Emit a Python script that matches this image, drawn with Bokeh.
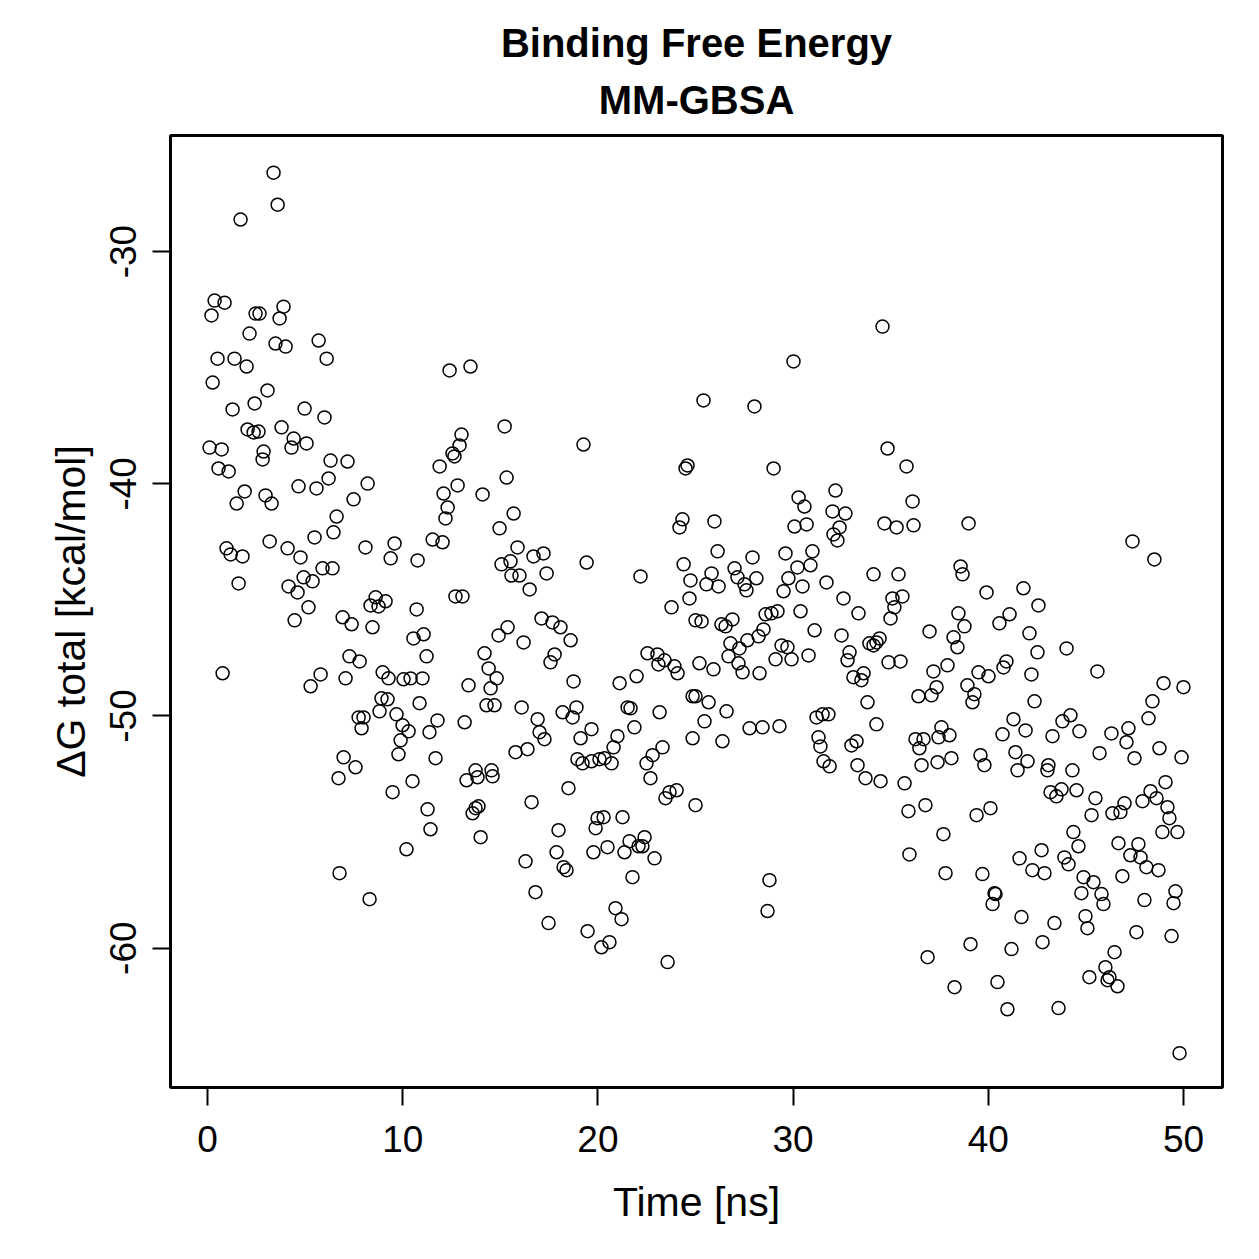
from bokeh.plotting import figure
from bokeh.models import Range1d, FixedTicker, Title
from bokeh.embed import file_html
from bokeh.resources import INLINE

FONT = "Liberation Sans"

# Simulation time of each snapshot [ns]
time_ns = [
    3.38, 3.59, 1.69, 0.36, 0.87, 0.20, 2.46, 2.66, 3.89, 3.69, 2.15, 3.48, 4.00, 5.69, 6.10, 0.51, 1.38,
    2.00, 0.26, 3.07, 1.28, 2.41, 4.97, 5.99, 2.05, 2.36, 2.61, 3.79, 4.41, 4.30, 5.07, 0.10, 0.72, 2.87,
    12.40, 13.47, 15.22, 19.26, 13.01, 12.91, 12.55, 12.65, 34.58, 30.02, 25.41, 28.02, 34.84,
    2.82, 0.56, 1.08, 6.30, 7.17, 11.89, 1.90, 1.49, 2.97, 3.28, 4.66, 5.58, 6.20, 8.20, 7.48, 6.61, 6.45,
    5.48, 3.18, 0.97, 1.18, 1.79, 4.10, 4.76, 5.89, 6.40, 8.09, 9.58, 9.38, 10.76, 11.53, 12.04, 1.59, 4.15,
    4.61, 4.92, 5.38, 5.17, 4.46, 6.92, 7.38, 8.45, 8.61, 8.35, 8.76, 9.12, 10.71, 10.55, 11.07, 11.22, 7.27,
    7.79, 0.77, 5.79, 5.28, 7.07, 8.97, 9.27, 10.04, 10.40, 11.01, 8.91, 9.22, 10.86, 7.74, 7.99, 7.89, 8.81,
    9.68, 9.99, 10.30, 9.89, 9.78, 11.37, 11.78, 6.97, 7.58, 11.68,
    15.32, 12.81, 12.09, 14.09, 12.30, 12.19, 15.68, 14.96, 15.88, 16.70, 17.21, 15.06, 15.52, 15.57, 15.98,
    17.37, 16.50, 19.42, 22.18, 24.59, 24.49, 24.33, 24.18, 24.39, 24.74, 24.69, 23.77, 25.00, 12.70, 13.06,
    17.11, 17.67, 18.08, 15.37, 14.91, 16.19, 18.60, 14.19, 17.78, 17.57, 14.40, 14.81, 14.50, 13.37, 18.75,
    22.54, 23.05, 23.41, 23.10, 23.92, 24.08, 21.98, 21.11, 14.29, 14.70, 16.09, 18.19, 18.70, 18.90, 21.52,
    21.67, 23.16, 24.85, 13.17, 16.91, 17.01, 17.26, 19.67, 19.11, 21.87, 21.00, 20.80, 24.85, 23.31, 22.80,
    22.49, 15.78, 16.39, 18.95, 19.21, 19.67, 20.08, 20.34, 20.70, 14.55, 13.73,
    13.27, 13.83, 14.60, 13.88, 13.73, 13.58, 13.99, 16.60, 18.49, 22.69, 23.46, 23.67, 24.03, 25.00, 21.26,
    19.98, 20.29, 19.88, 17.98, 17.88, 16.29, 18.24, 18.39, 19.77, 20.49, 21.36, 21.62, 22.39, 22.08, 22.28,
    22.90, 21.77, 16.80, 20.90, 21.21, 17.47, 19.47, 20.59, 20.18, 23.57,
    6.71, 9.48, 10.50, 11.27, 11.42, 10.19, 6.76, 8.30,
    29.00, 35.81, 32.17, 30.28, 30.58, 36.12, 32.02, 32.68, 25.97, 30.07, 30.69, 32.38, 32.07, 32.27, 34.68,
    35.30, 36.17, 26.13, 27.92, 29.61, 30.99, 30.89, 30.22, 29.76, 29.51, 30.48, 31.71, 27.00, 27.15, 25.82,
    25.56, 26.18, 28.12, 27.51, 27.61, 34.12, 35.40, 32.58, 35.09, 35.60, 35.19, 34.99, 33.35, 25.31, 26.33,
    26.54, 26.89, 28.59, 28.89, 29.20, 30.38, 28.48, 28.23, 27.66, 27.25, 26.79, 26.69, 27.20, 27.41, 31.10,
    32.48, 33.91, 34.12, 34.27, 34.43, 29.41, 29.71, 29.10, 29.92, 30.79, 32.89, 32.79, 34.89, 35.50, 36.99,
    38.47, 38.22, 38.42, 25.20, 25.92, 28.28, 33.09, 33.61, 33.50, 37.19, 37.91, 37.35, 37.09, 36.42, 25.00,
    25.67, 26.59, 25.46, 27.77, 28.43, 29.30, 33.81, 31.20, 31.51, 31.81, 34.27, 26.38, 31.30, 31.40, 32.99,
    33.25, 36.27, 36.68, 36.47, 37.60, 37.45, 38.01, 31.56, 31.87, 33.30, 36.58, 37.40, 38.11,
    33.71, 34.48, 35.71, 35.91, 36.78, 37.70, 35.96, 37.81, 28.79, 28.69, 36.89,
    38.99, 47.39, 48.51, 38.58, 38.68, 39.91, 41.80, 42.57, 38.78, 41.09, 40.57, 42.11, 42.52, 44.01, 40.93,
    40.78, 39.50, 40.01, 42.21, 45.59, 38.93, 39.29, 39.19, 42.37, 48.98, 50.00, 48.41, 48.21, 41.29, 41.91,
    40.73, 44.21, 43.80, 44.67, 43.29, 46.31, 47.18, 47.08, 39.60, 39.80, 41.39, 42.01, 41.50, 43.08, 43.03,
    44.31, 45.70, 47.49, 48.77, 49.90,
    43.19, 43.49, 43.75, 44.52, 45.49, 45.29, 46.36, 46.77, 46.98, 47.90, 48.31, 48.62, 49.08, 49.18, 49.28,
    48.92, 49.69, 39.40, 40.11, 44.36, 44.62, 46.67, 47.69, 47.28, 47.80, 48.10, 48.72, 42.73, 41.60, 43.90,
    44.11, 42.26, 42.88, 39.70, 44.88, 45.39, 46.87, 44.77, 45.80, 45.90, 48.00, 49.59, 49.49, 40.32, 40.37,
    40.22, 41.70, 43.39, 44.98, 45.08, 47.59, 49.39, 39.09, 41.19, 42.78, 46.47, 46.00, 46.21, 46.11, 46.62,
    45.18, 38.27, 40.47, 40.98, 43.60, 49.80,
]

# MM-GBSA total binding free energy of each snapshot [kcal/mol]
dg_total = [
    -26.60, -27.98, -28.62, -32.11, -32.20, -32.75, -32.67, -32.67, -32.37, -32.88, -33.53, -33.96, -34.09,
    -33.83, -34.61, -34.61, -34.61, -34.95, -35.64, -35.98, -36.80, -36.54, -36.76, -37.14, -37.66, -37.79,
    -37.75, -37.57, -38.05, -38.44, -38.26, -38.44, -38.52, -38.61,
    -35.12, -34.95, -37.53, -38.31, -37.88, -38.35, -38.69, -38.82, -33.23, -34.73, -36.41, -36.67, -38.48,
    -38.95, -39.34, -39.47, -39.00, -39.04, -39.25, -40.33, -40.85, -40.50, -40.85, -40.11, -40.20, -39.77,
    -39.99, -40.67, -41.41, -42.09, -42.31, -42.48, -42.78, -43.04, -43.13, -42.78, -43.17, -43.64, -43.64,
    -42.74, -42.57, -43.21, -43.30, -42.40, -42.52, -44.29, -44.42, -44.68, -44.03, -44.20, -45.32, -45.88,
    -45.75, -46.05, -46.18, -44.89, -45.24, -45.28, -45.06, -45.41, -46.66, -46.48, -47.43, -47.43, -47.65,
    -48.16, -48.21, -48.72, -48.38, -48.12, -48.38, -48.42, -48.38, -48.38, -49.24, -49.28, -49.45, -50.06,
    -50.06, -50.53, -49.80, -49.93, -50.40, -50.66, -51.05, -51.65, -50.70, -50.19, -51.78, -52.21, -51.82,
    -39.73, -40.07, -40.42, -40.46, -41.02, -41.49, -41.28, -41.92, -42.74, -43.13, -43.00, -43.47, -43.34,
    -43.95, -43.95, -43.86, -44.55, -43.39, -43.99, -39.21, -39.34, -41.53, -41.88, -43.47, -44.16, -44.94,
    -45.32, -45.88, -44.85, -44.85, -45.80, -45.97, -46.18, -46.18, -46.53, -46.83, -46.74, -47.30, -47.35,
    -47.69, -47.95, -48.38, -48.81, -48.68, -48.51, -47.30, -47.35, -47.60, -47.78, -47.86, -48.16, -48.29,
    -48.59, -49.54, -49.54, -49.63, -49.84, -50.06, -49.63, -49.63, -49.67, -49.84, -49.15, -50.27, -50.14,
    -50.70, -51.00, -50.57, -50.96, -50.49, -50.87, -51.35, -50.96, -51.35, -51.69, -52.04, -51.56, -51.43,
    -51.86, -52.04, -51.95, -51.86, -51.82, -52.04, -52.34, -52.34,
    -52.77, -52.64, -52.60, -53.89, -53.97, -54.19, -55.22, -53.71, -53.11, -52.68, -53.54, -53.28, -53.20,
    -53.84, -54.36, -54.40, -54.36, -54.83, -54.92, -55.87, -56.26, -56.51, -56.64, -55.87, -55.65, -55.87,
    -55.39, -55.22, -55.61, -55.61, -56.13, -56.94, -57.59, -58.28, -58.75, -58.92, -59.27, -59.74, -59.96,
    -60.60,
    -52.68, -53.28, -52.81, -54.02, -54.88, -55.74, -56.77, -57.89,
    -39.34, -39.25, -40.29, -40.59, -40.98, -40.76, -41.19, -41.28, -41.62, -41.84, -41.75, -41.88, -42.18,
    -42.44, -41.71, -41.88, -41.79, -42.91, -43.17, -43.00, -42.91, -43.51, -43.60, -44.07, -44.63, -44.42,
    -44.25, -43.64, -44.03, -43.86, -44.33, -44.42, -44.07, -44.33, -44.59, -43.90, -43.90, -44.94, -44.94,
    -44.85, -45.32, -45.80, -45.58, -45.93, -46.05, -46.14, -45.84, -45.62, -45.58, -45.49, -45.49, -46.27,
    -46.57, -46.74, -47.09, -46.87, -47.43, -47.73, -48.12, -46.31, -46.53, -46.87, -46.96, -46.83, -46.66,
    -46.96, -47.04, -47.56, -47.56, -47.39, -47.26, -47.60, -47.69, -47.65, -46.36, -45.58, -46.61, -47.04,
    -47.73, -47.99, -48.16, -48.33, -48.16, -48.46, -48.08, -47.82, -48.76, -49.11, -49.15, -49.15, -49.41,
    -49.80, -50.23, -50.53, -50.49, -50.44, -49.41, -50.06, -49.93, -49.93, -50.36, -51.09, -50.92, -51.31,
    -51.27, -51.09, -51.00, -51.00, -51.39, -50.49, -50.92, -50.83, -51.95, -52.17, -52.12, -52.12, -51.99,
    -51.82,
    -52.68, -52.81, -52.90, -54.10, -53.84, -55.09, -55.96, -56.77, -57.07, -58.40, -60.39,
    -41.71, -42.48, -43.26, -43.56, -43.90, -44.68, -44.50, -45.24, -46.14, -45.62, -46.01, -46.44, -47.26,
    -47.09, -47.65, -47.91, -48.12, -48.29, -48.21, -48.08, -48.68, -49.06, -49.41, -49.37, -48.59, -48.76,
    -49.37, -50.10, -50.14, -50.62, -50.79, -49.97, -50.23, -50.66, -50.87, -50.75, -50.53, -51.13, -51.69,
    -52.12, -51.56, -51.95, -52.34, -52.12, -52.34, -52.34, -51.60, -51.82, -51.39, -51.78,
    -53.28, -53.46, -53.16, -53.20, -53.54, -54.27, -54.19, -54.14, -53.76, -53.67, -53.24, -53.54, -52.85,
    -53.93, -54.40, -55.00, -55.00, -54.27, -53.97, -55.00, -55.61, -55.48, -55.52, -56.00, -56.09, -56.51,
    -56.64, -55.78, -56.13, -56.09, -56.39, -56.64, -56.77, -56.81, -56.94, -57.16, -56.90, -57.63, -57.67,
    -58.10, -57.93, -57.55, -58.06, -57.63, -57.67, -58.10, -58.66, -58.92, -58.62, -59.14, -59.31, -59.48,
    -59.83, -60.04, -59.74, -60.17, -60.82, -61.25, -61.38, -61.64, -61.25, -61.68, -61.46, -62.63, -62.58,
    -64.52,
]

assert len(time_ns) == len(dg_total)

x_ticks = [0, 10, 20, 30, 40, 50]
y_ticks = [-60, -50, -40, -30]

p = figure(
    width=1259, height=1259,
    title=None,
    output_backend="svg", toolbar_location=None,
    x_range=Range1d(-1.9, 52.0), y_range=Range1d(-66.0, -25.0),
    min_border_left=170, min_border_right=37,
    min_border_top=135, min_border_bottom=172,
    background_fill_color="white", border_fill_color="white",
)

# two-line bold heading, second line nearest the frame
for line, gap in [("MM-GBSA", 27), ("Binding Free Energy", -5)]:
    p.add_layout(Title(text=line, align="center", text_font=FONT, text_font_size="40px",
                       text_font_style="bold", text_color="black", standoff=gap), "above")

p.xgrid.visible = False
p.ygrid.visible = False
p.outline_line_color = "black"
p.outline_line_width = 3
p.outline_line_alpha = 1.0

p.xaxis.ticker = FixedTicker(ticks=x_ticks)
p.yaxis.ticker = FixedTicker(ticks=y_ticks)
p.xaxis.major_label_overrides = {t: str(t) for t in x_ticks}
p.yaxis.major_label_overrides = {t: str(t) for t in y_ticks}

for ax in (p.xaxis[0], p.yaxis[0]):
    ax.axis_line_color = None
    ax.major_tick_out = 18
    ax.major_tick_in = 0
    ax.major_tick_line_width = 2
    ax.major_tick_line_color = "black"
    ax.minor_tick_line_color = None
    ax.major_label_text_font = FONT
    ax.major_label_text_font_size = "37px"
    ax.major_label_text_color = "black"
    ax.axis_label_text_font = FONT
    ax.axis_label_text_font_size = "41px"
    ax.axis_label_text_font_style = "normal"
    ax.axis_label_text_color = "black"

p.xaxis.axis_label = "Time [ns]"
p.yaxis.axis_label = "ΔG total [kcal/mol]"
p.yaxis.major_label_orientation = "vertical"
p.xaxis.major_label_standoff = 20
p.yaxis.major_label_standoff = 16
p.xaxis.axis_label_standoff = 24
p.yaxis.axis_label_standoff = 14

p.scatter(time_ns, dg_total, marker="circle", size=13, fill_color=None,
          line_color="black", line_width=1.5)

open("out.html", "w").write(file_html(p, INLINE))
